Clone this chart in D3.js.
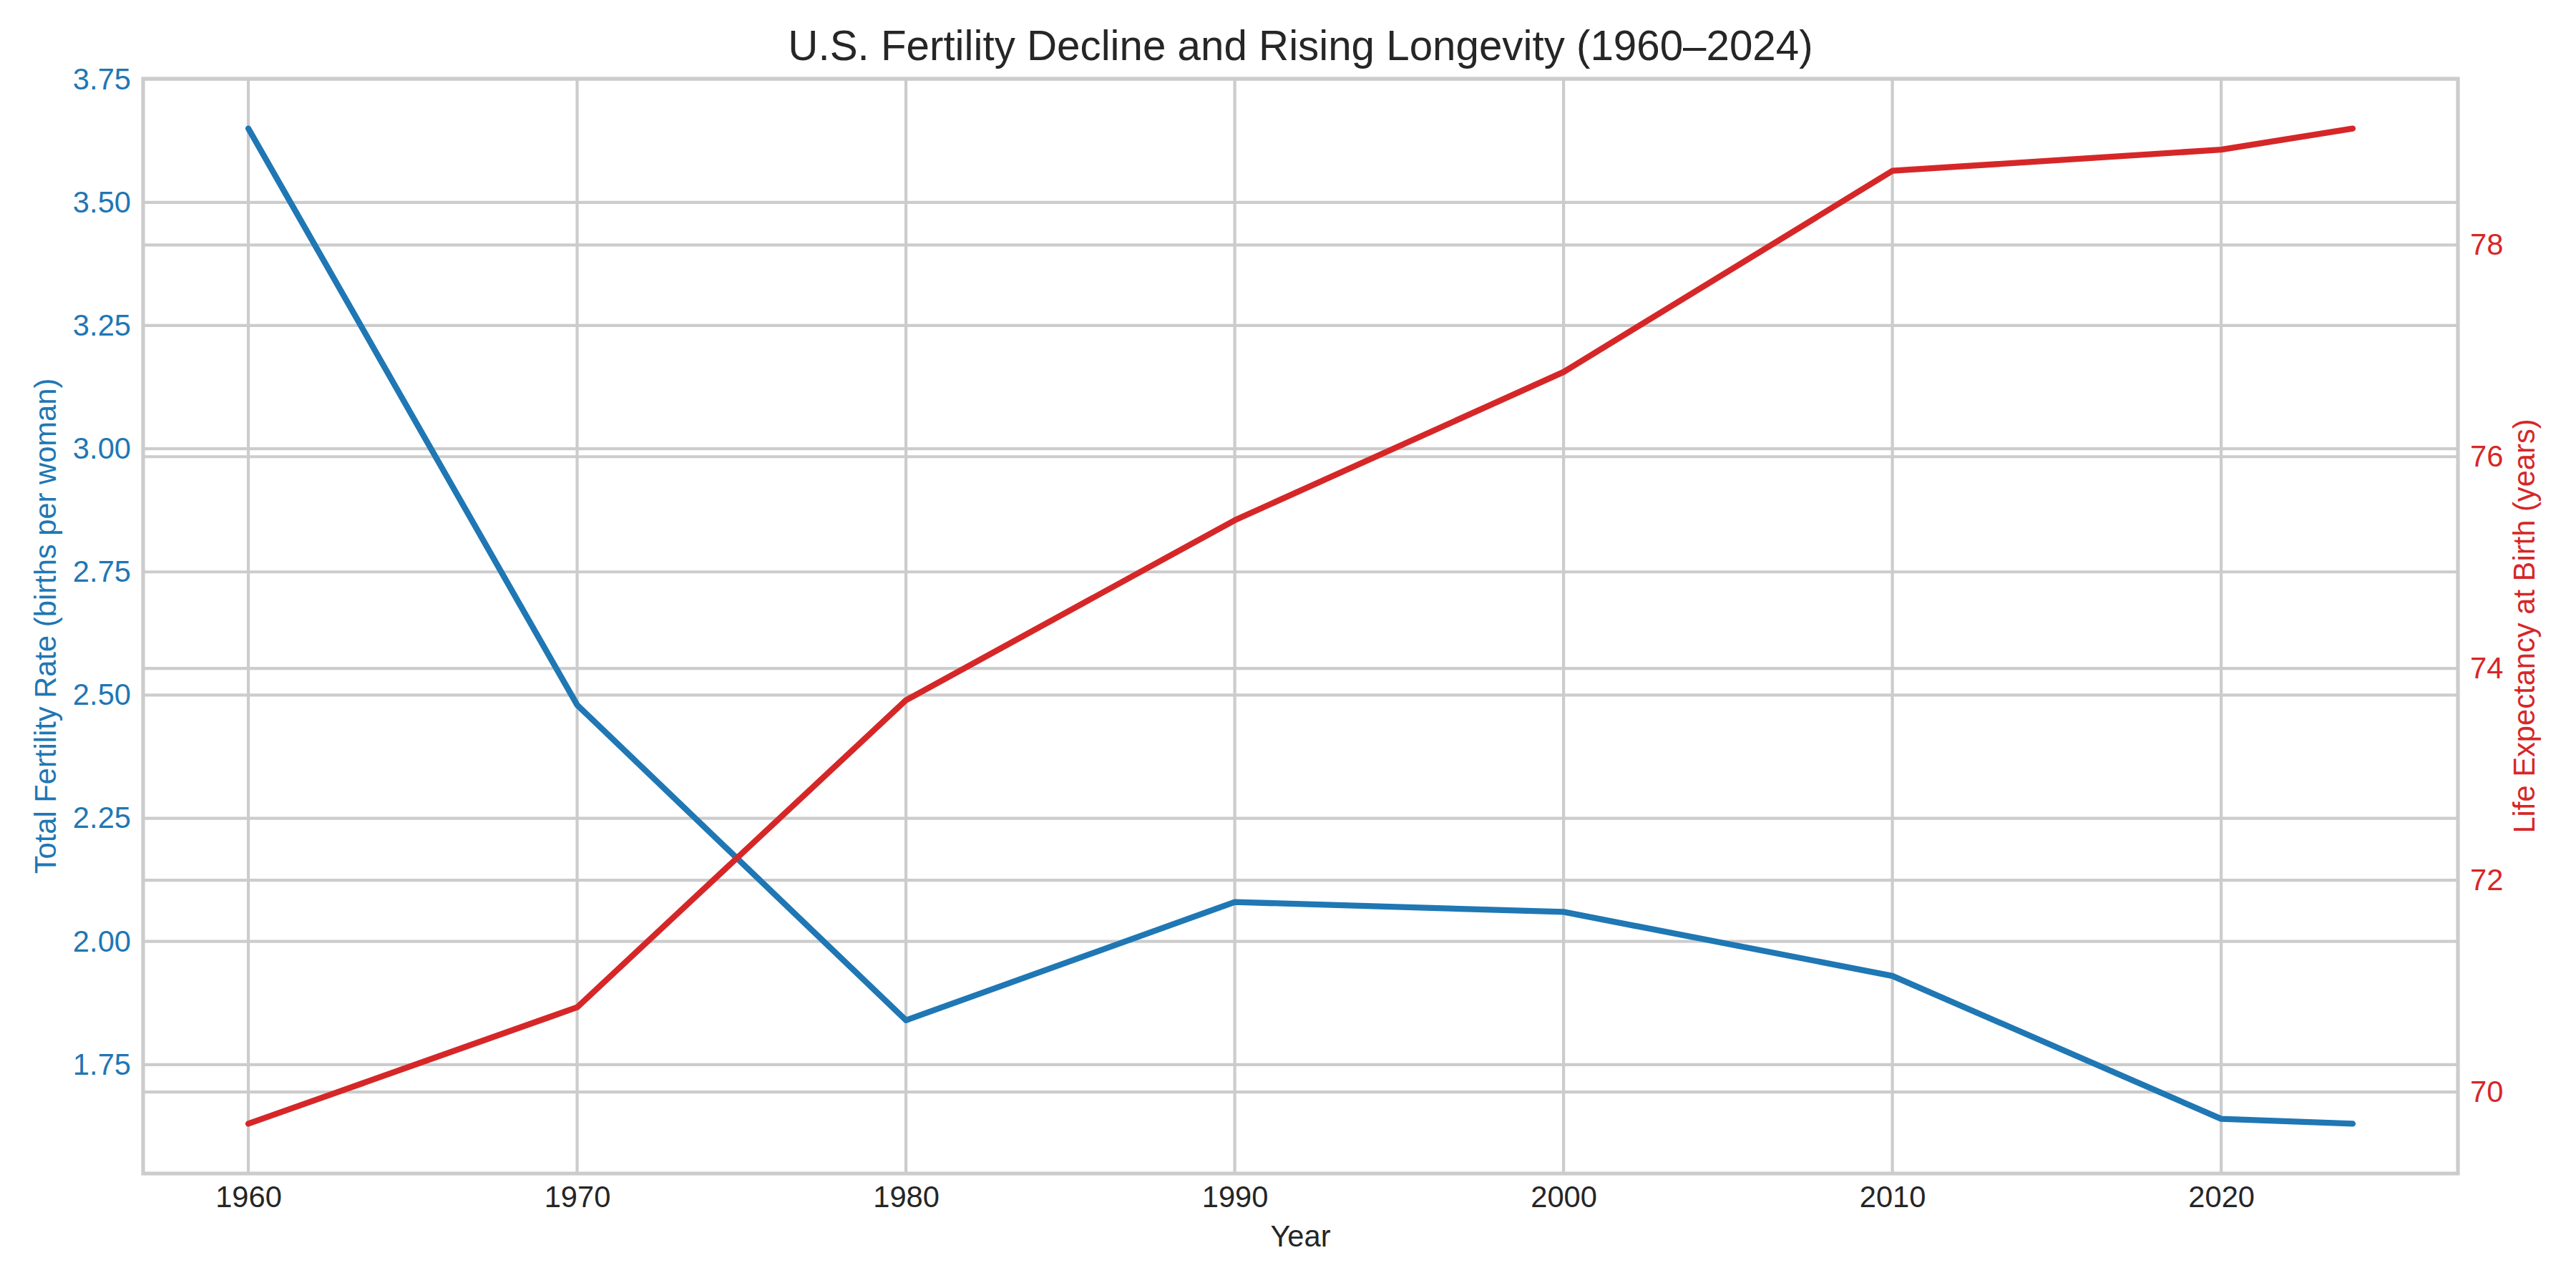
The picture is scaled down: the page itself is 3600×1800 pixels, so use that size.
<!DOCTYPE html>
<html>
<head>
<meta charset="utf-8">
<script src="https://cdn.jsdelivr.net/npm/d3@7"></script>
<style>
  body { margin: 0; background: white; }
  svg { display: block; font-family: "Liberation Sans", Arial, sans-serif; }
</style>
</head>
<body>
<svg id="chart" width="3600" height="1800"></svg>
<script>
// data
const years = [1960, 1970, 1980, 1990, 2000, 2010, 2020, 2024];
const fertility = [3.65, 2.48, 1.84, 2.08, 2.06, 1.93, 1.64, 1.63];
const lifeExp = [69.7, 70.8, 73.7, 75.4, 76.8, 78.7, 78.9, 79.1];
const xTicks = [1960, 1970, 1980, 1990, 2000, 2010, 2020];
const leftTicks = [1.75, 2.0, 2.25, 2.5, 2.75, 3.0, 3.25, 3.5, 3.75];
const rightTicks = [70, 72, 74, 76, 78];

const W = 3600, H = 1800;
const m = { top: 110, right: 165, bottom: 160, left: 200 };
const iw = W - m.left - m.right;
const ih = H - m.top - m.bottom;

const blue = "#1f77b4";
const red = "#d62728";
const grey = "#cccccc";
const ink = "#262626";
const fs = 41.7; // 10pt @ 300dpi

// matplotlib style 5% padding around the data
const pad = (ext) => {
  const d = (ext[1] - ext[0]) * 0.05;
  return [ext[0] - d, ext[1] + d];
};

const x = d3.scaleLinear().domain(pad(d3.extent(years))).range([0, iw]);
const yL = d3.scaleLinear().domain(pad(d3.extent(fertility))).range([ih, 0]);
const yR = d3.scaleLinear().domain(pad(d3.extent(lifeExp))).range([ih, 0]);

const svg = d3.select("#chart");
svg.append("rect").attr("width", W).attr("height", H).attr("fill", "white");

const g = svg.append("g").attr("transform", `translate(${m.left},${m.top})`);

// gridlines first so lines sit on top
const grid = g.append("g").attr("class", "grid");
grid.selectAll("line.gx").data(xTicks).join("line")
  .attr("class", "gx")
  .attr("x1", (d) => x(d)).attr("x2", (d) => x(d))
  .attr("y1", 0).attr("y2", ih);
grid.selectAll("line.gl").data(leftTicks).join("line")
  .attr("class", "gl")
  .attr("x1", 0).attr("x2", iw)
  .attr("y1", (d) => yL(d)).attr("y2", (d) => yL(d));
grid.selectAll("line.gr").data(rightTicks).join("line")
  .attr("class", "gr")
  .attr("x1", 0).attr("x2", iw)
  .attr("y1", (d) => yR(d)).attr("y2", (d) => yR(d));
grid.selectAll("line").attr("stroke", grey).attr("stroke-width", 4.2);

// axes (no tick marks, only labels)
const xAxis = g.append("g")
  .attr("transform", `translate(0,${ih})`)
  .call(d3.axisBottom(x).tickValues(xTicks).tickSize(0).tickPadding(17).tickFormat(d3.format("d")));

const leftAxis = g.append("g")
  .call(d3.axisLeft(yL).tickValues(leftTicks).tickSize(0).tickPadding(17).tickFormat(d3.format(".2f")));

const rightAxis = g.append("g")
  .attr("transform", `translate(${iw},0)`)
  .call(d3.axisRight(yR).tickValues(rightTicks).tickSize(0).tickPadding(17).tickFormat(d3.format("d")));

[xAxis, leftAxis, rightAxis].forEach((a) => {
  a.select(".domain").remove();
  a.selectAll("text").attr("font-size", fs).attr("font-family", "Liberation Sans, Arial, sans-serif");
});
xAxis.selectAll("text").attr("fill", ink);
leftAxis.selectAll("text").attr("fill", blue);
rightAxis.selectAll("text").attr("fill", red);

// the two series
const lineL = d3.line().x((d, i) => x(years[i])).y((d) => yL(d));
const lineR = d3.line().x((d, i) => x(years[i])).y((d) => yR(d));

g.append("path")
  .datum(fertility)
  .attr("d", lineL)
  .attr("fill", "none")
  .attr("stroke", blue)
  .attr("stroke-width", 8.3)
  .attr("stroke-linecap", "round")
  .attr("stroke-linejoin", "round");

g.append("path")
  .datum(lifeExp)
  .attr("d", lineR)
  .attr("fill", "none")
  .attr("stroke", red)
  .attr("stroke-width", 8.3)
  .attr("stroke-linecap", "round")
  .attr("stroke-linejoin", "round");

// frame
g.append("rect")
  .attr("width", iw).attr("height", ih)
  .attr("fill", "none")
  .attr("stroke", grey)
  .attr("stroke-width", 5.2);

// title + labels
svg.append("text")
  .attr("x", m.left + iw / 2).attr("y", 84)
  .attr("text-anchor", "middle")
  .attr("font-size", 58.3)
  .attr("fill", ink)
  .text("U.S. Fertility Decline and Rising Longevity (1960\u20132024)");

svg.append("text")
  .attr("x", m.left + iw / 2).attr("y", 1742)
  .attr("text-anchor", "middle")
  .attr("font-size", fs)
  .attr("fill", ink)
  .text("Year");

svg.append("text")
  .attr("transform", `translate(78,${m.top + ih / 2}) rotate(-90)`)
  .attr("text-anchor", "middle")
  .attr("font-size", fs)
  .attr("fill", blue)
  .text("Total Fertility Rate (births per woman)");

svg.append("text")
  .attr("transform", `translate(3542,${m.top + ih / 2}) rotate(-90)`)
  .attr("text-anchor", "middle")
  .attr("font-size", fs)
  .attr("fill", red)
  .text("Life Expectancy at Birth (years)");
</script>
</body>
</html>
